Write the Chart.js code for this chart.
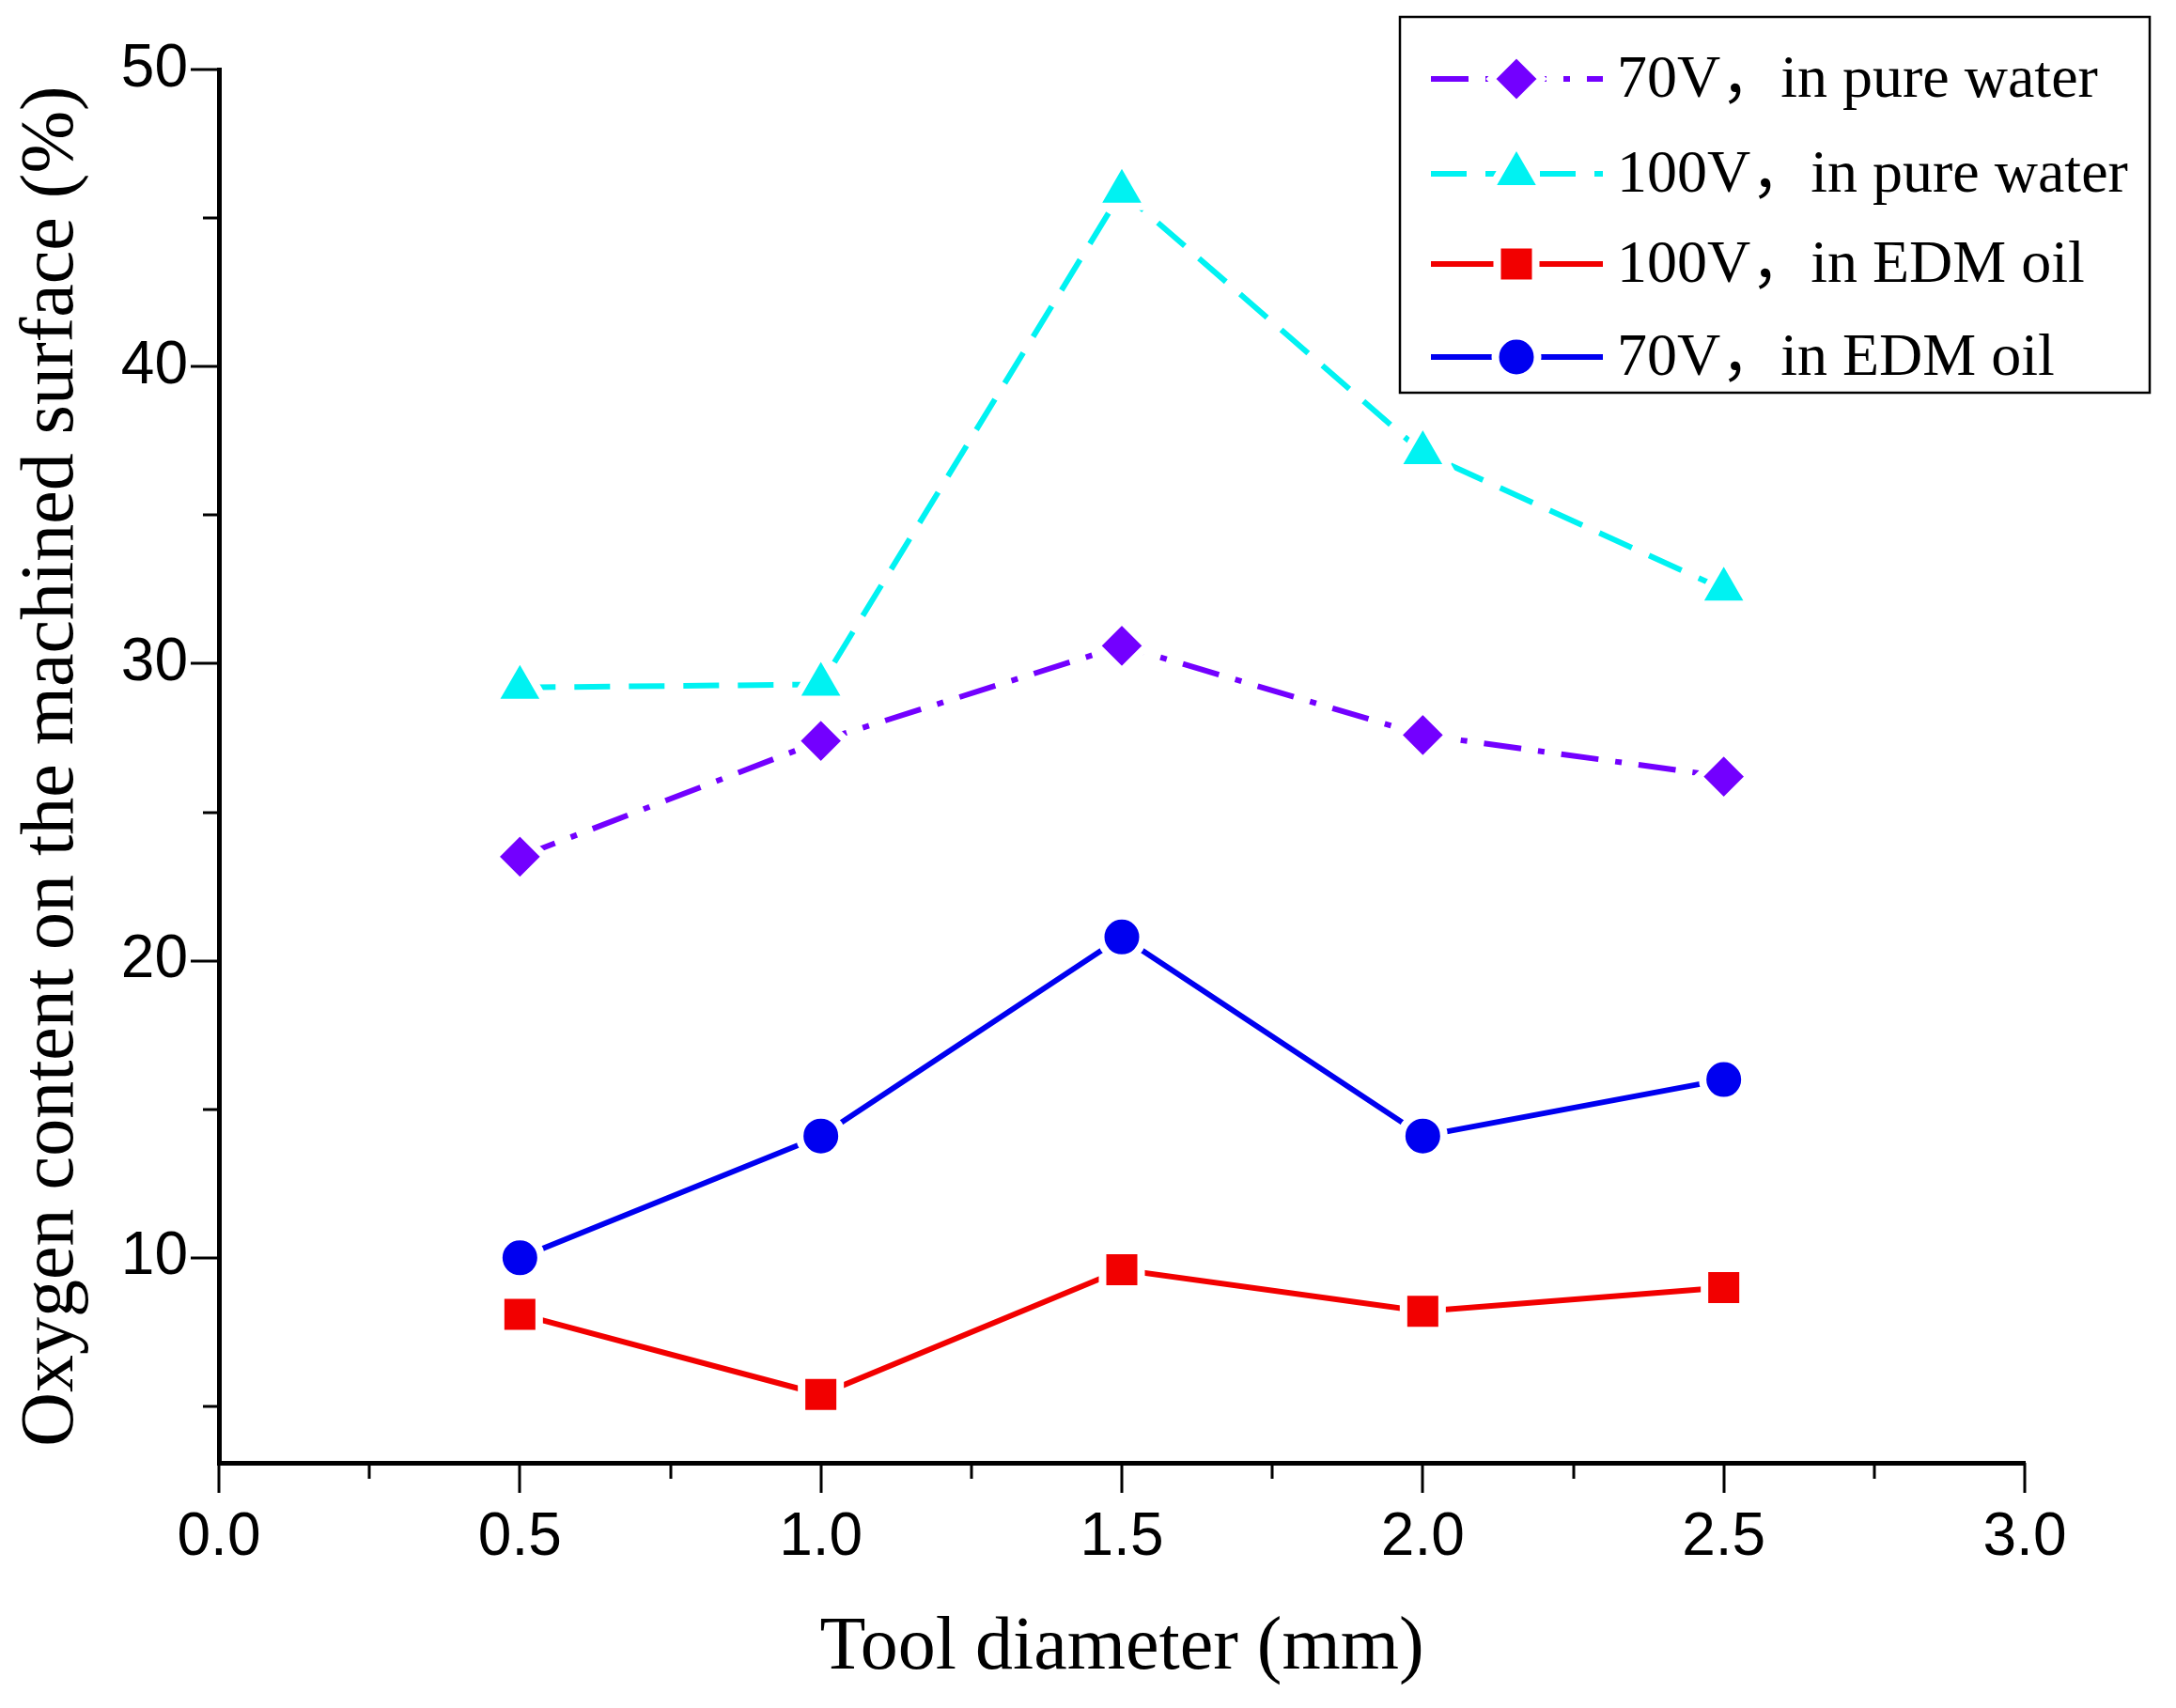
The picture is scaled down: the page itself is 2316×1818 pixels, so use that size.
<!DOCTYPE html>
<html>
<head>
<meta charset="utf-8">
<script src="https://cdn.jsdelivr.net/npm/chart.js@4.4.1/dist/chart.umd.min.js"></script>
<style>
  body { margin: 0; background: #fff; }
  #oxygen { display: block; }
</style>
</head>
<body>
<canvas id="oxygen" width="2316" height="1818"></canvas>
<script>
// tool diameter (mm) and measured oxygen content (%)
const toolDiameter = [0.5, 1.0, 1.5, 2.0, 2.5];
const water70 = [23.5, 27.4, 30.6, 27.6, 26.2];
const water100 = [29.2, 29.3, 45.9, 37.1, 32.5];
const oil100 = [8.1, 5.4, 9.6, 8.2, 9.0];
const oil70 = [10.0, 14.1, 20.8, 14.1, 16.0];

const seriesLabels = ['70V，in pure water', '100V，in pure water', '100V，in EDM oil', '70V，in EDM oil'];

const xTicks = [0, 0.25, 0.5, 0.75, 1, 1.25, 1.5, 1.75, 2, 2.25, 2.5, 2.75, 3];
const xTickLabels = ['0.0', '', '0.5', '', '1.0', '', '1.5', '', '2.0', '', '2.5', '', '3.0'];
const yTicks = [5, 10, 15, 20, 25, 30, 35, 40, 45, 50];
const yTickLabels = ['', '10', '', '20', '', '30', '', '40', '', '50'];

const serif = "'Liberation Serif', 'Times New Roman', 'Noto Sans CJK SC', serif";
const sans = "'Liberation Sans', Arial, sans-serif";

function pts(vals) {
  return toolDiameter.map((x, i) => ({x: x, y: vals[i]}));
}

// white border around each marker gives the little gap in the line, like Origin does
function series(label, vals, color, style, radius, dash) {
  return {
    label: label,
    data: pts(vals),
    borderColor: color,
    backgroundColor: color,
    borderWidth: 6,
    borderDash: dash,
    pointStyle: style,
    pointRadius: radius,
    pointHoverRadius: radius,
    pointBackgroundColor: color,
    pointBorderColor: '#ffffff',
    pointBorderWidth: 8,
    tension: 0
  };
}

const datasets = [
  series(seriesLabels[0], water70, '#7300ff', 'rectRot', 27, [40, 18, 7, 18]),
  series(seriesLabels[1], water100, '#00f2f2', 'triangle', 32, [38, 20]),
  series(seriesLabels[2], oil100, '#f20000', 'rect', 29, []),
  series(seriesLabels[3], oil70, '#0000f0', 'circle', 22.5, [])
];

// short minor / long major ticks, drawn outside the axes
const tickMarks = {
  id: 'tickMarks',
  afterDraw(chart) {
    const ctx = chart.ctx, area = chart.chartArea;
    const xs = chart.scales.x, ys = chart.scales.y;
    ctx.save();
    ctx.strokeStyle = '#000';
    ctx.lineWidth = 3;
    ctx.beginPath();
    xTicks.forEach((v, i) => {
      const px = Math.round(xs.getPixelForValue(v));
      const len = xTickLabels[i] ? 32 : 17;
      ctx.moveTo(px, area.bottom);
      ctx.lineTo(px, area.bottom + len);
    });
    yTicks.forEach((v, i) => {
      const py = Math.round(ys.getPixelForValue(v));
      const len = yTickLabels[i] ? 30 : 17;
      ctx.moveTo(area.left, py);
      ctx.lineTo(area.left - len, py);
    });
    ctx.stroke();
    ctx.restore();
  }
};

// boxed legend with line + marker samples
const boxLegend = {
  id: 'boxLegend',
  afterDraw(chart) {
    const ctx = chart.ctx;
    const box = {x: 1490, y: 18, w: 798, h: 400};
    const rowY = [84, 185, 281, 380];
    ctx.save();
    ctx.fillStyle = '#fff';
    ctx.fillRect(box.x, box.y, box.w, box.h);
    ctx.strokeStyle = '#000';
    ctx.lineWidth = 2.5;
    ctx.strokeRect(box.x, box.y, box.w, box.h);
    chart.data.datasets.forEach((ds, i) => {
      const y = rowY[i];
      ctx.save();
      ctx.strokeStyle = ds.borderColor;
      ctx.lineWidth = ds.borderWidth;
      ctx.setLineDash(ds.borderDash);
      ctx.beginPath();
      ctx.moveTo(1523, y);
      ctx.lineTo(1706, y);
      ctx.stroke();
      ctx.setLineDash([]);
      ctx.fillStyle = ds.pointBackgroundColor;
      ctx.strokeStyle = ds.pointBorderColor;
      ctx.lineWidth = ds.pointBorderWidth;
      Chart.helpers.drawPoint(ctx, {
        pointStyle: ds.pointStyle,
        radius: ds.pointRadius,
        rotation: 0,
        borderWidth: ds.pointBorderWidth
      }, 1614, y);
      ctx.restore();
      ctx.fillStyle = '#000';
      ctx.font = '64px ' + serif;
      ctx.textAlign = 'left';
      ctx.textBaseline = 'middle';
      ctx.fillText(ds.label, 1721, y + 2);
    });
    ctx.restore();
  }
};

new Chart(document.getElementById('oxygen'), {
  type: 'line',
  data: {datasets: datasets},
  plugins: [tickMarks, boxLegend],
  options: {
    responsive: false,
    animation: false,
    devicePixelRatio: 1,
    layout: {padding: {left: 0, top: 74, right: 161, bottom: 0}},
    plugins: {legend: {display: false}, tooltip: {enabled: false}},
    scales: {
      x: {
        type: 'linear',
        min: 0,
        max: 3,
        afterFit(scale) { scale.height = 261; },
        afterBuildTicks(scale) { scale.ticks = xTicks.map(v => ({value: v})); },
        grid: {drawOnChartArea: false, drawTicks: false},
        border: {display: true, color: '#000', width: 5},
        ticks: {
          autoSkip: false,
          maxRotation: 0,
          padding: 42,
          color: '#000',
          font: {family: sans, size: 64},
          callback(v) { const k = xTicks.indexOf(v); return k >= 0 ? xTickLabels[k] : ''; }
        },
        title: {
          display: true,
          text: 'Tool diameter (mm)',
          color: '#000',
          font: {family: serif, size: 80},
          padding: {top: 0, bottom: 15}
        }
      },
      y: {
        type: 'linear',
        min: 3.1,
        max: 50,
        afterFit(scale) { scale.width = 233; },
        afterBuildTicks(scale) { scale.ticks = yTicks.map(v => ({value: v})); },
        grid: {drawOnChartArea: false, drawTicks: false},
        border: {display: true, color: '#000', width: 5},
        ticks: {
          autoSkip: false,
          padding: 33,
          color: '#000',
          font: {family: sans, size: 64},
          callback(v) { const k = yTicks.indexOf(v); return k >= 0 ? yTickLabels[k] : ''; }
        },
        title: {
          display: true,
          text: 'Oxygen content on the machined surface (%)',
          color: '#000',
          font: {family: serif, size: 80},
          padding: {top: 8, bottom: 0}
        }
      }
    }
  }
});
</script>
</body>
</html>
